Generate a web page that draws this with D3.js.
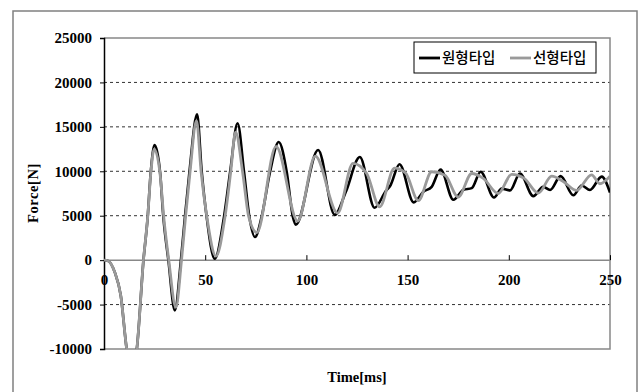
<!DOCTYPE html>
<html><head><meta charset="utf-8">
<script src="https://cdn.jsdelivr.net/npm/d3@7"></script>
<style>html,body{margin:0;padding:0;background:#fff;}svg{display:block;}</style>
</head><body>
<script>
const blackTime  = [0,2,5.3,8.3,11.2,13.6,16.2,19.5,21.6,23.1,25,27.7,29.3,31.8,35,38,40,42.2,46,48.3,50.7,54.7,59.3,62.3,66,69.2,71.8,74.6,77.9,82,86.3,90.3,93.3,94.8,105.8,114,119.5,126.4,133.7,139.3,141.5,146,153,157.8,161.9,166.3,172.6,177.5,181.7,186.1,192.7,196.5,200.6,205.5,212.1,217,220.4,225.6,231.9,236,240.1,245.9,250];
const blackForce = [0,-80,-1350,-4000,-10000,-12500,-10000,0,4900,9900,12950,9900,4900,0,-5650,0,4900,9900,16400,9900,4900,150,4900,9900,15400,9900,4900,2600,4900,9900,13300,9900,4900,4000,12400,5100,7700,11600,5900,7800,8400,10800,6500,7700,8250,10200,6800,7900,8100,9950,7050,8050,7850,9750,7200,8250,7900,9450,7300,8400,7900,9400,7600];
const grayTime   = [0,2,5.3,8.3,11.2,13.6,16.2,19.5,21.6,23.1,24.8,27.7,29.5,32,35.5,38.3,40.3,42.5,45.7,48,50.8,55.3,59.8,62.6,65,68.5,71.5,75.5,85,95.7,104.4,115.4,123,129.8,136.2,143.5,149,155.3,161.9,168.5,175,181.7,187.4,194.8,201.4,207.6,214.6,221.2,226.9,233.5,240.9,245,250];
const grayForce  = [0,-80,-1350,-4000,-10000,-12500,-10000,0,4900,9700,12500,9700,4900,0,-5300,0,4900,9900,15700,9900,4900,450,4900,9900,14400,9900,4900,3100,12800,4400,11700,5300,10900,9750,6000,10350,9800,6700,9950,9550,7100,9750,9200,7500,9650,9200,7550,9450,8850,7850,9600,8600,9450];
const yTicks = [-10000,-5000,0,5000,10000,15000,20000,25000];
const xTicks = [0,50,100,150,200,250];
const seriesNames = ["원형타입","선형타입"];
const seriesColors = ["#000000","#9a9a9a"];

const W=644,H=392;
const svg=d3.select("body").append("svg").attr("width",W).attr("height",H);
const L=104,R=610,T=38,B=349;
const x=d3.scaleLinear().domain([0,250]).range([L,R]);
const y=d3.scaleLinear().domain([-10000,25000]).range([B,T]);

// outer frame
svg.append("rect").attr("x",13).attr("y",11).attr("width",624).attr("height",400)
  .attr("fill","none").attr("stroke","#808080").attr("stroke-width",1.5);

// gridlines
svg.append("g").selectAll("line").data(yTicks.filter(d=>d!==0&&d!==25000&&d!==-10000)).join("line")
  .attr("x1",L).attr("x2",R).attr("y1",d=>y(d)).attr("y2",d=>y(d))
  .attr("stroke","#333").attr("stroke-width",1).attr("stroke-dasharray","3,3");

// plot border (gray)
svg.append("path").attr("d",`M${L},${T}H${R}V${B}H${L}`).attr("fill","none").attr("stroke","#888").attr("stroke-width",1.5);
// zero line
svg.append("line").attr("x1",L).attr("x2",R).attr("y1",y(0)).attr("y2",y(0)).attr("stroke","#888").attr("stroke-width",1.5);

// y axis
const yAxis=d3.axisLeft(y).tickValues(yTicks).tickSize(4).tickPadding(8).tickFormat(d=>d);
const gy=svg.append("g").attr("transform",`translate(${L},0)`).call(yAxis);
gy.select(".domain").attr("stroke","#000").attr("stroke-width",1.5);
gy.selectAll("line").attr("stroke","#000");
gy.selectAll("text").attr("font-family","'Liberation Serif',serif").attr("font-weight","bold").attr("font-size",15).attr("fill","#000");

// x axis on zero line, ticks upward
const xAxis=d3.axisBottom(x).tickValues(xTicks).tickSize(0).tickFormat(d=>d);
const gx=svg.append("g").attr("transform",`translate(0,${y(0)})`).call(xAxis);
gx.select(".domain").remove();
gx.selectAll(".tick line").attr("y2",-5).attr("stroke","#000");
gx.selectAll("text").attr("y",25).attr("dy","0").attr("font-family","'Liberation Serif',serif").attr("font-weight","bold").attr("font-size",15).attr("fill","#000");

// clip
svg.append("clipPath").attr("id","clip").append("rect").attr("x",L).attr("y",T).attr("width",R-L).attr("height",B-T);

const line=d3.line().x(d=>x(d[0])).y(d=>y(d[1])).curve(d3.curveMonotoneX);
const blackData=blackTime.map((t,i)=>[t,blackForce[i]]);
const grayData=grayTime.map((t,i)=>[t,grayForce[i]]);
const gl=svg.append("g").attr("clip-path","url(#clip)");
gl.append("path").datum(blackData).attr("d",line).attr("fill","none").attr("stroke",seriesColors[0]).attr("stroke-width",2.6).attr("stroke-linejoin","round");
gl.append("path").datum(grayData).attr("d",line).attr("fill","none").attr("stroke",seriesColors[1]).attr("stroke-width",2.8).attr("stroke-linejoin","round");

// axis titles
svg.append("text").attr("x",(L+R)/2).attr("y",382).attr("text-anchor","middle")
  .attr("font-family","'Liberation Serif',serif").attr("font-weight","bold").attr("font-size",14.5).text("Time[ms]");
svg.append("text").attr("transform","translate(38,193) rotate(-90)").attr("text-anchor","middle")
  .attr("font-family","'Liberation Serif',serif").attr("font-weight","bold").attr("font-size",14.5).attr("letter-spacing",0.6).text("Force[N]");

// legend
const lg=svg.append("g");
lg.append("rect").attr("x",414).attr("y",42).attr("width",182).attr("height",31).attr("fill","#fff").attr("stroke","#000").attr("stroke-width",1);
const legX=[[419,440,442],[510,531,533]];
seriesNames.forEach((n,i)=>{
  lg.append("line").attr("x1",legX[i][0]).attr("x2",legX[i][1]).attr("y1",58).attr("y2",58).attr("stroke",seriesColors[i]).attr("stroke-width",2.8);
  lg.append("text").attr("x",legX[i][2]).attr("y",63).attr("font-family","'Noto Sans CJK KR',sans-serif").attr("font-weight",500).attr("font-size",14.5).attr("fill","#000").text(n);
});
</script>
</body></html>
